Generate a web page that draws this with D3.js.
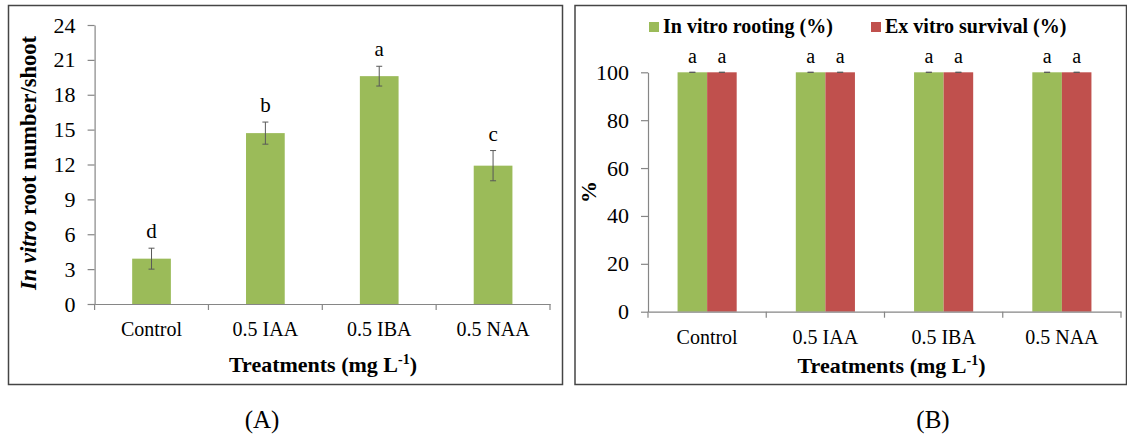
<!DOCTYPE html>
<html>
<head>
<meta charset="utf-8">
<script src="https://cdn.jsdelivr.net/npm/d3@7/dist/d3.min.js"></script>
<style>
  html, body { margin: 0; padding: 0; background: #fff; }
  svg { display: block; font-family: "Liberation Serif", "Times New Roman", serif; }
</style>
</head>
<body>
<svg id="chart" width="1127" height="436"></svg>
<script>
// Treatments shared by both panels
const treatments = ["Control", "0.5 IAA", "0.5 IBA", "0.5 NAA"];

// Panel A: root number per shoot (mean ± SE) and significance letters
const rootNumber = [3.9, 14.7, 19.6, 11.9];
const rootError = [0.9, 0.95, 0.85, 1.3];
const rootLetters = ["d", "b", "a", "c"];
const rootTicks = [0, 3, 6, 9, 12, 15, 18, 21, 24];

// Panel B: rooting and survival percentages
const seriesNames = ["In vitro rooting (%)", "Ex vitro survival (%)"];
const rootingPct = [100, 100, 100, 100];
const survivalPct = [100, 100, 100, 100];
const pctError = [0, 0, 0, 0];
const pctLetters = [["a", "a"], ["a", "a"], ["a", "a"], ["a", "a"]];
const pctTicks = [0, 20, 40, 60, 80, 100];

const GREEN = "#9BBB59", RED = "#C0504D";
const AXIS = "#868686", ERR = "#595959", FRAME = "#454545";

const svg = d3.select("#chart");

// Panel frames
svg.append("rect").attr("x", 8.5).attr("y", 5.5).attr("width", 554).attr("height", 379)
  .attr("fill", "none").attr("stroke", FRAME).attr("stroke-width", 1.5);
svg.append("rect").attr("x", 575).attr("y", 5.5).attr("width", 551.5).attr("height", 379)
  .attr("fill", "none").attr("stroke", FRAME).attr("stroke-width", 1.5);

function styleAxis(g) {
  g.selectAll("path.domain").attr("stroke", AXIS).attr("stroke-width", 1.2);
  g.selectAll(".tick line").attr("stroke", AXIS).attr("stroke-width", 1.2);
  g.selectAll(".tick text").attr("fill", "#000").attr("font-family", "Liberation Serif");
}

function drawXAxis(g, x, y0, labelDy) {
  const ax = g.append("g").attr("transform", `translate(0,${y0})`)
    .call(d3.axisBottom(x).tickSize(0).tickPadding(labelDy).tickSizeOuter(0));
  styleAxis(ax);
  ax.selectAll(".tick text").attr("font-size", 20);
  // category boundary ticks
  const edges = treatments.map(d => x(d)).concat([x(treatments[treatments.length - 1]) + x.bandwidth()]);
  g.selectAll(null).data(edges).join("line")
    .attr("x1", d => d).attr("x2", d => d)
    .attr("y1", y0).attr("y2", y0 + 6)
    .attr("stroke", AXIS).attr("stroke-width", 1.2);
}

function xTitle(g, cx, baseline) {
  const t = g.append("text").attr("x", cx).attr("y", baseline)
    .attr("text-anchor", "middle").attr("font-size", 22).attr("font-weight", "bold");
  t.append("tspan").text("Treatments (mg L");
  t.append("tspan").attr("font-size", 14).attr("dy", -8).text("-1");
  t.append("tspan").attr("dy", 8).text(")");
}

// ---------- Panel A ----------
{
  const g = svg.append("g");
  const x = d3.scaleBand().domain(treatments).range([94.6, 550]).padding(0);
  const y = d3.scaleLinear().domain([0, 24]).range([304, 25]);
  const barW = x.bandwidth() * 0.34;

  const yAx = g.append("g").attr("transform", "translate(94.6,0)")
    .call(d3.axisLeft(y).tickValues(rootTicks).tickSize(7).tickPadding(12).tickSizeOuter(0));
  styleAxis(yAx);
  yAx.selectAll(".tick text").attr("font-size", 22);

  g.selectAll("rect.bar").data(rootNumber).join("rect").attr("class", "bar")
    .attr("x", (d, i) => x(treatments[i]) + (x.bandwidth() - barW) / 2)
    .attr("width", barW)
    .attr("y", d => y(d)).attr("height", d => y(0) - y(d))
    .attr("fill", GREEN);

  drawXAxis(g, x, 304, 18);

  // error bars
  rootNumber.forEach((v, i) => {
    const cx = x(treatments[i]) + x.bandwidth() / 2;
    const top = y(v + rootError[i]), bot = y(v - rootError[i]);
    g.append("line").attr("x1", cx).attr("x2", cx).attr("y1", top).attr("y2", bot)
      .attr("stroke", ERR).attr("stroke-width", 1);
    [top, bot].forEach(yy => g.append("line").attr("x1", cx - 3).attr("x2", cx + 3)
      .attr("y1", yy).attr("y2", yy).attr("stroke", ERR).attr("stroke-width", 1));
    g.append("text").attr("x", cx).attr("y", top - 10).attr("text-anchor", "middle")
      .attr("font-size", 21).text(rootLetters[i]);
  });

  const yt = g.append("text").attr("transform", "translate(36,163) rotate(-90)")
    .attr("text-anchor", "middle").attr("font-size", 22.5).attr("font-weight", "bold");
  yt.append("tspan").attr("font-style", "italic").text("In vitro");
  yt.append("tspan").text(" root number/shoot");

  xTitle(g, 323, 372);

  g.append("text").attr("x", 262).attr("y", 428).attr("text-anchor", "middle")
    .attr("font-size", 25).text("(A)");
}

// ---------- Panel B ----------
{
  const g = svg.append("g");
  const x = d3.scaleBand().domain(treatments).range([648, 1121]).padding(0);
  const inner = d3.scaleBand().domain(seriesNames).range([0, x.bandwidth() * 0.5]).padding(0);
  const y = d3.scaleLinear().domain([0, 100]).range([311.7, 72.3]);
  const colors = [GREEN, RED];
  const series = [rootingPct, survivalPct];

  const yAx = g.append("g").attr("transform", "translate(648,0)")
    .call(d3.axisLeft(y).tickValues(pctTicks).tickSize(7).tickPadding(12).tickSizeOuter(0));
  styleAxis(yAx);
  yAx.selectAll(".tick text").attr("font-size", 22);

  const off = x.bandwidth() * 0.25;
  series.forEach((vals, s) => {
    g.selectAll(null).data(vals).join("rect")
      .attr("x", (d, i) => x(treatments[i]) + off + inner(seriesNames[s]))
      .attr("width", inner.bandwidth())
      .attr("y", d => y(d)).attr("height", d => y(0) - y(d))
      .attr("fill", colors[s]);
  });

  drawXAxis(g, x, 311.7, 18);

  series.forEach((vals, s) => {
    vals.forEach((v, i) => {
      const cx = x(treatments[i]) + off + inner(seriesNames[s]) + inner.bandwidth() / 2;
      const top = y(v + pctError[i]), bot = y(v - pctError[i]);
      g.append("line").attr("x1", cx - 3).attr("x2", cx + 3).attr("y1", top).attr("y2", top)
        .attr("stroke", ERR).attr("stroke-width", 1);
      g.append("line").attr("x1", cx - 3).attr("x2", cx + 3).attr("y1", bot).attr("y2", bot)
        .attr("stroke", ERR).attr("stroke-width", 1);
      g.append("text").attr("x", cx).attr("y", top - 9).attr("text-anchor", "middle")
        .attr("font-size", 20).text(pctLetters[i][s]);
    });
  });

  g.append("text").attr("transform", "translate(596,192) rotate(-90)")
    .attr("text-anchor", "middle").attr("font-size", 22).attr("font-weight", "bold").text("%");

  // legend
  const legendX = [649, 871];
  seriesNames.forEach((name, s) => {
    g.append("rect").attr("x", legendX[s]).attr("y", 22).attr("width", 10).attr("height", 10)
      .attr("fill", colors[s]);
    g.append("text").attr("x", legendX[s] + 14).attr("y", 33).attr("font-size", 20)
      .attr("font-weight", "bold").text(name);
  });

  xTitle(g, 891.5, 373);

  g.append("text").attr("x", 933).attr("y", 428).attr("text-anchor", "middle")
    .attr("font-size", 25).text("(B)");
}
</script>
</body>
</html>
